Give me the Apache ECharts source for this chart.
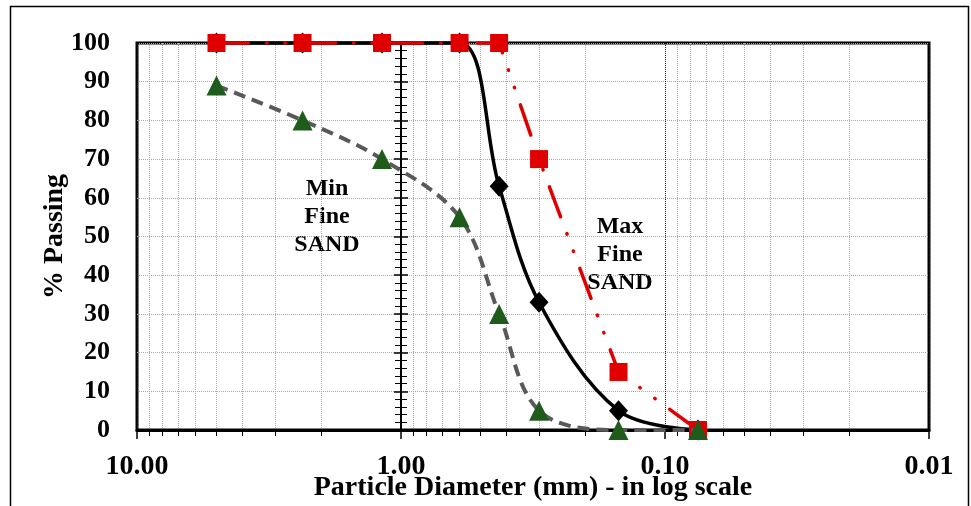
<!DOCTYPE html>
<html>
<head>
<meta charset="utf-8">
<script src="https://cdn.jsdelivr.net/npm/echarts@6/dist/echarts.min.js"></script>
<style>
html,body{margin:0;padding:0;background:#fff;}
#chart{width:971px;height:506px;}
</style>
</head>
<body>
<div id="chart"></div>
<script>
// Sieve sizes (mm)
var sieveSizes = [5.0, 2.36, 1.18, 0.6, 0.425, 0.3, 0.15, 0.075];
// % Passing
var maxFineSand = [100, 100, 100, 100, 100, 70, 15, 0];
var sampleSand  = [100, 100, 100, 100, 63, 33, 5, 0];
var minFineSand = [89, 80, 70, 55, 30, 5, 0, 0];
// Axis ranges
var xMin = 0.01, xMax = 10;
var yMin = 0, yMax = 100, yStep = 10;
var xAxisTitle = 'Particle Diameter (mm) - in log scale';
var yAxisTitle = '% Passing';
var minLabel = 'Min\nFine\nSAND';
var maxLabel = 'Max\nFine\nSAND';

function pairs(xs, ys){ return xs.map(function(x,i){ return [x, ys[i]]; }); }

var FONT = '"Liberation Serif", "Times New Roman", serif';
var chart = echarts.init(document.getElementById('chart'), null, {renderer:'canvas'});

var yCommonHidden = {
  type:'value', min:yMin, max:yMax, interval:yStep, position:'left',
  offset:-264,
  axisLabel:{show:false}, splitLine:{show:false}, name:''
};

var option = {
  animation:false,
  backgroundColor:'#fff',
  grid:{left:137, top:43, right:42, bottom:76, show:true, borderColor:'#000', borderWidth:3, containLabel:false, outerBoundsMode:'none'},
  xAxis:{
    type:'log', logBase:10, min:xMin, max:xMax, inverse:true,
    axisLine:{show:true, onZero:false, lineStyle:{color:'#000', width:3}},
    axisTick:{show:true, inside:false, length:9, lineStyle:{color:'#000', width:1.5}},
    minorTick:{show:true, splitNumber:9, length:6, lineStyle:{color:'#000', width:1}},
    splitLine:{show:true, lineStyle:{color:'#222', type:'dotted', width:1}},
    minorSplitLine:{show:true, lineStyle:{color:'#aaa', type:'dotted', width:1}},
    axisLabel:{formatter:function(v){ return Number(v).toFixed(2); }, fontFamily:FONT, fontWeight:'bold', fontSize:28, color:'#000', margin:23},
    name:xAxisTitle, nameLocation:'middle', nameGap:44, nameMoveOverlap:false,
    nameTextStyle:{fontFamily:FONT, fontWeight:'bold', fontSize:28, color:'#000'}
  },
  yAxis:[
    {
      type:'value', min:yMin, max:yMax, interval:yStep,
      axisLine:{show:false}, axisTick:{show:false},
      splitLine:{show:true, lineStyle:{color:'#aaa', type:'dotted', width:1}},
      axisLabel:{fontFamily:FONT, fontWeight:'bold', fontSize:26, color:'#000', margin:27},
      name:yAxisTitle, nameLocation:'middle', nameGap:68, nameRotate:90, nameMoveOverlap:false,
      nameTextStyle:{fontFamily:FONT, fontWeight:'bold', fontSize:28, color:'#000'}
    },
    Object.assign({}, yCommonHidden, {
      axisLine:{show:true, lineStyle:{color:'#000', width:2}},
      axisTick:{show:true, inside:false, length:7, lineStyle:{color:'#000', width:1.5}},
      minorTick:{show:true, splitNumber:5, length:6, lineStyle:{color:'#000', width:1}}
    }),
    Object.assign({}, yCommonHidden, {
      axisLine:{show:false},
      axisTick:{show:true, inside:true, length:7, lineStyle:{color:'#000', width:1.5}},
      minorTick:{show:true, splitNumber:5, length:6, lineStyle:{color:'#000', width:1}}
    })
  ],
  graphic:[
    {type:'rect', shape:{x:10.5, y:6.5, width:958, height:520}, style:{fill:'none', stroke:'#000', lineWidth:1.5}, z:-1, silent:true},
    {type:'text', x:327, y:217, style:{text:minLabel, fontFamily:FONT, fontWeight:'bold', fontSize:24, lineHeight:28, fill:'#000', align:'center', verticalAlign:'middle'}},
    {type:'text', x:620, y:255, style:{text:maxLabel, fontFamily:FONT, fontWeight:'bold', fontSize:24, lineHeight:28, fill:'#000', align:'center', verticalAlign:'middle'}}
  ],
  series:[
    {
      name:'Sample', type:'line', data:pairs(sieveSizes, sampleSand), clip:false,
      smooth:0.35, symbol:'diamond', symbolSize:[19,21], z:2,
      itemStyle:{color:'#000'}, lineStyle:{color:'#000', width:3.5}
    },
    {
      name:'Max Fine SAND', type:'line', data:pairs(sieveSizes, maxFineSand), clip:false,
      smooth:false, symbol:'rect', symbolSize:18, z:3,
      itemStyle:{color:'#e00000'},
      lineStyle:{color:'#e00000', width:3.5, type:[32,18,0.5,18,0.5,18], cap:'round'}
    },
    {
      name:'Min Fine SAND', type:'line', data:pairs(sieveSizes, minFineSand), clip:false,
      smooth:0.35, symbol:'triangle', symbolSize:20, z:4,
      itemStyle:{color:'#1f5c1b'},
      lineStyle:{color:'#595959', width:4, type:[12,7]}
    }
  ]
};
chart.setOption(option);
</script>
</body>
</html>
